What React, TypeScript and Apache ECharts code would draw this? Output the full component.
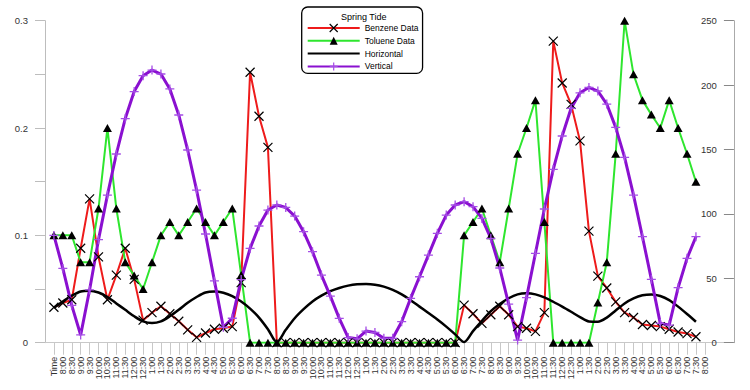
import React, { useEffect, useRef } from "react";
import * as echarts from "echarts";

const FONT = "Liberation Sans, Arial, sans-serif";

// x-axis tick labels (index 0 = "Time", then half-hourly from 8:00)
const timeLabels = [
  "Time", "8:00", "8:30", "9:00", "9:30", "10:00", "10:30", "11:00", "11:30", "12:00", "12:30",
  "1:00", "1:30", "2:00", "2:30", "3:00", "3:30", "4:00", "4:30", "5:00", "5:30", "6:00", "6:30",
  "7:00", "7:30", "8:00", "8:30", "9:00", "9:30", "10:00", "10:30", "11:00", "11:30", "12:00",
  "12:30", "1:00", "1:30", "2:00", "2:30", "3:00", "3:30", "4:00", "4:30", "5:00", "5:30", "6:00",
  "6:30", "7:00", "7:30", "8:00", "8:30", "9:00", "9:30", "10:00", "10:30", "11:00", "11:30",
  "12:00", "12:30", "1:00", "1:30", "2:00", "2:30", "3:00", "3:30", "4:00", "4:30", "5:00", "5:30",
  "6:00", "6:30", "7:00", "7:30", "8:00",
];

// left axis (concentration)
const benzene = [
  0.033, 0.037, 0.040, 0.088, 0.134, 0.080, 0.040, 0.063, 0.088, 0.059, 0.021,
  0.028, 0.034, 0.027, 0.020, 0.012, 0.005, 0.009, 0.0125, 0.0135, 0.015, 0.056,
  0.252, 0.211, 0.182, 0, 0, 0, 0, 0, 0, 0, 0, 0, 0, 0, 0, 0, 0, 0, 0, 0, 0, 0, 0, 0,
  0.035, 0.027, 0.018, 0.026, 0.034, 0.026, 0.015, 0.0135, 0.0105, 0.028,
  0.281, 0.242, 0.222, 0.188, 0.104, 0.062, 0.051, 0.038, 0.028, 0.0235, 0.017,
  0.016, 0.015, 0.0125, 0.010, 0.0085, 0.0055,
];

const toluene = [
  0.1, 0.1, 0.1, 0.075, 0.075, 0.125, 0.2, 0.125, 0.075, 0.0625, 0.05,
  0.075, 0.1, 0.1125, 0.1, 0.1125, 0.125, 0.1125, 0.1, 0.1125, 0.125, 0.063,
  0, 0, 0, 0, 0, 0, 0, 0, 0, 0, 0, 0, 0, 0, 0, 0, 0, 0, 0, 0, 0, 0, 0, 0,
  0.1, 0.1125, 0.125, 0.1, 0.075, 0.125, 0.176, 0.2, 0.226, 0.1125,
  0, 0, 0, 0, 0, 0.0375, 0.075, 0.176, 0.3, 0.25, 0.226, 0.2125, 0.2, 0.226,
  0.2, 0.176, 0.15,
];

// right axis (current)
const horizontal = [
  27.2, 32, 36.5, 39.8, 40.4, 39, 35.5, 30.5, 25.5, 20.5, 16.5,
  15.2, 16.5, 20.5, 25.5, 31, 35.5, 39, 39.8, 38.8, 36.2, 32,
  26.5, 19.5, 10.5, 0.5, 10, 19, 26, 32, 36.5, 40, 42.5, 44.3, 45.3, 45.5,
  45, 43.5, 41, 37.5, 33, 28, 23, 18, 12.5, 6.5, 0.5,
  9, 17, 24.5, 30, 34.5, 37.5, 38.3, 37.5, 35.2, 31.8, 28, 24, 19.9, 16.5,
  16.3, 19.5, 25, 30.5, 34.4, 36.8, 37.5, 36.3, 33.1, 28, 22.3, 16.3,
];

const vertical = [
  83.3, 57.7, 29, 6, 41, 80, 114.6, 146.5, 174, 195, 207.3,
  211.7, 208.6, 197, 176.8, 149.6, 118.5, 84.4, 48, 12, 19, 49,
  73.2, 90.6, 103, 106.9, 105, 98.3, 86.2, 70.7, 52.5, 36.2, 18.9, 4, 3, 9,
  8, 3.4, 3.4, 16.3, 34.4, 51.2, 68, 84.9, 99.1, 106.9, 109.5,
  105.6, 96.5, 81, 58, 30, 2, 35, 69.4, 103.8, 134.6, 160.5, 182, 194, 198.2,
  195.4, 185.3, 167.2, 143.9, 114.6, 82.3, 49.2, 15, 13.7, 42.7, 65.5, 82.3,
];

const categories = ["", ...timeLabels, "", "", ""];
const pad = (arr: number[]) => [null, ...arr];

const CROSS = "path://M0,0L10,10M10,0L0,10";
const PLUS = "path://M5,0L5,10M0,5L10,5";

export default function App() {
  const ref = useRef<HTMLDivElement>(null);
  useEffect(() => {
    if (!ref.current) return;
    const chart = echarts.init(ref.current, undefined, { renderer: "svg" });
    const step = 8.917;
    const option: any = {
      animation: false,
      backgroundColor: "#ffffff",
      textStyle: { fontFamily: FONT },
      grid: {
        left: 45,
        top: 20.7,
        width: step * (categories.length - 1),
        height: 322,
        containLabel: false,
        outerBoundsMode: "none",
      },
      legend: {
        orient: "vertical",
        left: 301.7,
        top: 7,
        padding: [16, 4, 2, 5],
        itemWidth: 52,
        itemHeight: 10,
        itemGap: 2.8,
        selectedMode: false,
        borderColor: "#000",
        borderWidth: 1.3,
        borderRadius: 6,
        backgroundColor: "#fff",
        textStyle: { fontSize: 8.5, color: "#000", fontFamily: FONT, lineHeight: 10 },
        itemStyle: { borderWidth: 1.2 },
        lineStyle: { width: 2 },
        data: [
          { name: "Benzene Data" },
          { name: "Toluene Data" },
          { name: "Horizontal", itemStyle: { opacity: 0 } },
          { name: "Vertical" },
        ],
      },
      graphic: [
        {
          type: "text",
          x: 363.7,
          y: 17,
          z: 100,
          style: {
            text: "Spring Tide",
            fontSize: 9,
            fontFamily: FONT,
            fill: "#000",
            align: "center",
            verticalAlign: "middle",
          },
        },
      ],
      xAxis: {
        type: "category",
        data: categories,
        boundaryGap: false,
        axisLine: { show: true, lineStyle: { color: "#c8c8c8", width: 1 } },
        axisTick: {
          show: true,
          length: 12,
          interval: (_i: number, v: string) => v !== "",
          lineStyle: { color: "#c8c8c8" },
        },
        axisLabel: {
          interval: 0,
          rotate: 90,
          fontSize: 9,
          color: "#333",
          margin: 14,
          fontFamily: FONT,
        },
        splitLine: { show: false },
      },
      yAxis: [
        {
          type: "value",
          position: "left",
          min: 0,
          max: 0.3,
          interval: 0.05,
          axisLine: { show: true, lineStyle: { color: "#bdbdbd" } },
          axisTick: { show: true, length: 10, lineStyle: { color: "#bdbdbd" } },
          axisLabel: {
            fontSize: 9.5,
            color: "#333",
            margin: 17,
            fontFamily: FONT,
            formatter: (v: number) => {
              const t = Math.round(v * 100);
              if (t % 10 !== 0) return "";
              return t === 0 ? "0" : (t / 100).toFixed(1);
            },
          },
          splitLine: { show: false },
        },
        {
          type: "value",
          position: "right",
          offset: 2.3,
          min: 0,
          max: 250,
          interval: 50,
          axisLine: { show: true, lineStyle: { color: "#aaaaaa" } },
          axisTick: { show: true, inside: true, length: 10, lineStyle: { color: "#888" } },
          axisLabel: {
            inside: true,
            fontSize: 9.5,
            color: "#333",
            margin: 17,
            fontFamily: FONT,
          },
          splitLine: { show: false },
        },
      ],
      series: [
        {
          name: "Benzene Data",
          type: "line",
          yAxisIndex: 0,
          data: pad(benzene),
          symbol: CROSS,
          symbolSize: 9,
          showAllSymbol: true,
          itemStyle: { color: "#000", borderColor: "#000", borderWidth: 1.2 },
          lineStyle: { color: "#ee1b1b", width: 2 },
        },
        {
          name: "Toluene Data",
          type: "line",
          yAxisIndex: 0,
          data: pad(toluene),
          symbol: "triangle",
          symbolSize: [9, 8],
          showAllSymbol: true,
          itemStyle: { color: "#000" },
          lineStyle: { color: "#2ee62e", width: 2 },
        },
        {
          name: "Horizontal",
          type: "line",
          yAxisIndex: 1,
          data: pad(horizontal),
          symbol: "circle",
          showSymbol: false,
          smooth: 0.3,
          itemStyle: { color: "#000" },
          lineStyle: { color: "#000", width: 2.5 },
        },
        {
          name: "Vertical",
          type: "line",
          yAxisIndex: 1,
          data: pad(vertical),
          symbol: PLUS,
          symbolSize: 9,
          showAllSymbol: true,
          itemStyle: { color: "#a54de6", borderColor: "#a54de6", borderWidth: 1.3 },
          lineStyle: { color: "#8a10d0", width: 3 },
        },
      ],
    };
    chart.setOption(option);
    return () => chart.dispose();
  }, []);
  return (
    <div
      ref={ref}
      style={{ position: "fixed", left: 0, top: 0, width: 750, height: 390, background: "#fff" }}
    />
  );
}
